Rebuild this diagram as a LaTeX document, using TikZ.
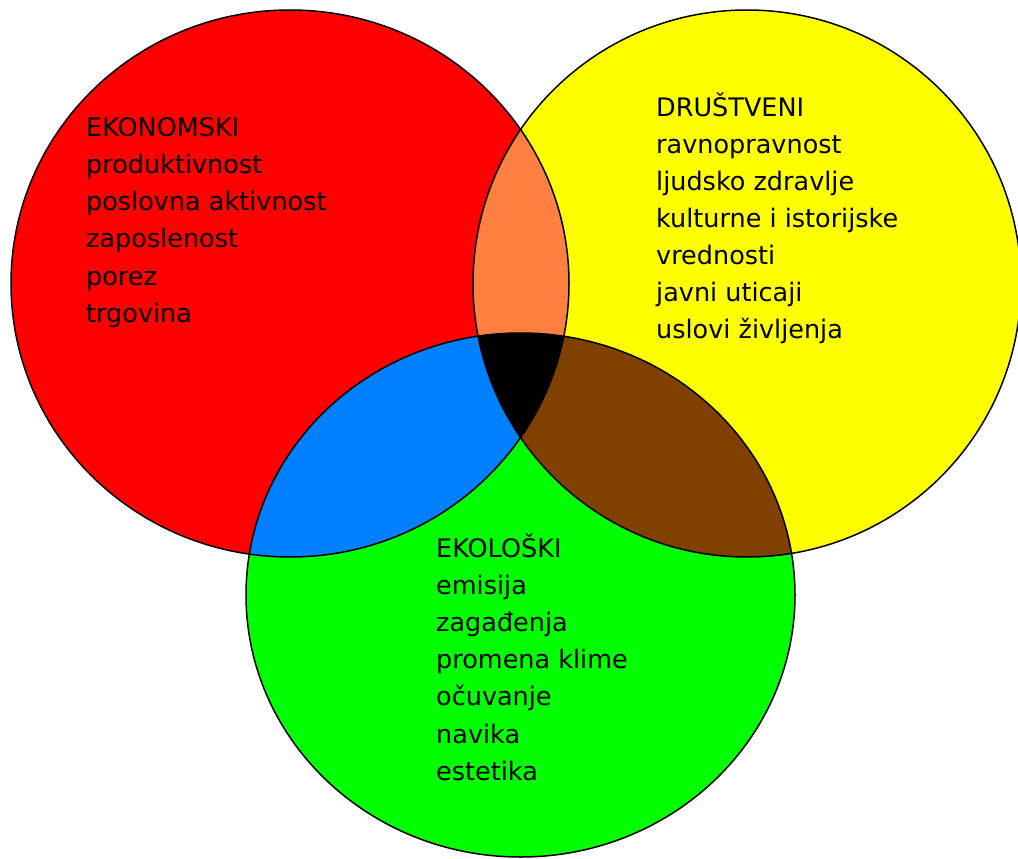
\documentclass[tikz,border=0pt]{standalone}
\usepackage{fontspec}
\setmainfont{DejaVu Sans}
\definecolor{cred}{RGB}{255,0,0}
\definecolor{cyel}{RGB}{255,255,0}
\definecolor{cgrn}{RGB}{0,255,0}
\definecolor{corange}{RGB}{255,128,64}
\definecolor{cblue}{RGB}{0,128,255}
\definecolor{cbrown}{RGB}{128,64,0}
\tikzset{
  redE/.style={insert path={(290,283.5) ellipse [x radius=279pt, y radius=273.5pt]}},
  yelE/.style={insert path={(747,283.5) ellipse [x radius=274pt, y radius=273.5pt]}},
  grnE/.style={insert path={(520.5,595) ellipse [x radius=274.5pt, y radius=262pt]}},
  outline/.style={draw=black, line width=1.5pt},
  lbl/.style={anchor=base west, inner sep=0pt, font=\fontsize{25.5pt}{37.4pt}\selectfont, text=black}
}
\begin{document}
\begin{tikzpicture}[x=1pt,y=-1pt]
\useasboundingbox (0,0) rectangle (1018,859);
\fill[white] (0,0) rectangle (1018,859);
% base fills
\fill[cred, redE];
\fill[cyel, yelE];
\fill[cgrn, grnE];
% pairwise intersections
\begin{scope}
  \clip[redE];
  \fill[corange, yelE];
  \fill[cblue, grnE];
\end{scope}
\begin{scope}
  \clip[yelE];
  \fill[cbrown, grnE];
\end{scope}
% triple intersection
\begin{scope}
  \clip[redE];
  \clip[yelE];
  \fill[black, grnE];
\end{scope}
% outlines
\path[outline, redE];
\path[outline, yelE];
\path[outline, grnE];
% texts
\foreach \t [count=\i] in {EKONOMSKI, produktivnost, poslovna aktivnost, zaposlenost, porez, trgovina}
  \node[lbl] (eko\i) at (86, 136+37.3*\i-37.3) {\t};
\foreach \t [count=\i] in {DRUŠTVENI, ravnopravnost, ljudsko zdravlje, kulturne i istorijske, vrednosti, javni uticaji, uslovi življenja}
  \node[lbl] (dru\i) at (656, 117+36.9*\i-36.9) {\t};
\foreach \t [count=\i] in {EKOLOŠKI, emisija, zagađenja, promena klime, očuvanje, navika, estetika}
  \node[lbl] (ekl\i) at (436, 557+37.2*\i-37.2) {\t};
\end{tikzpicture}
\end{document}
